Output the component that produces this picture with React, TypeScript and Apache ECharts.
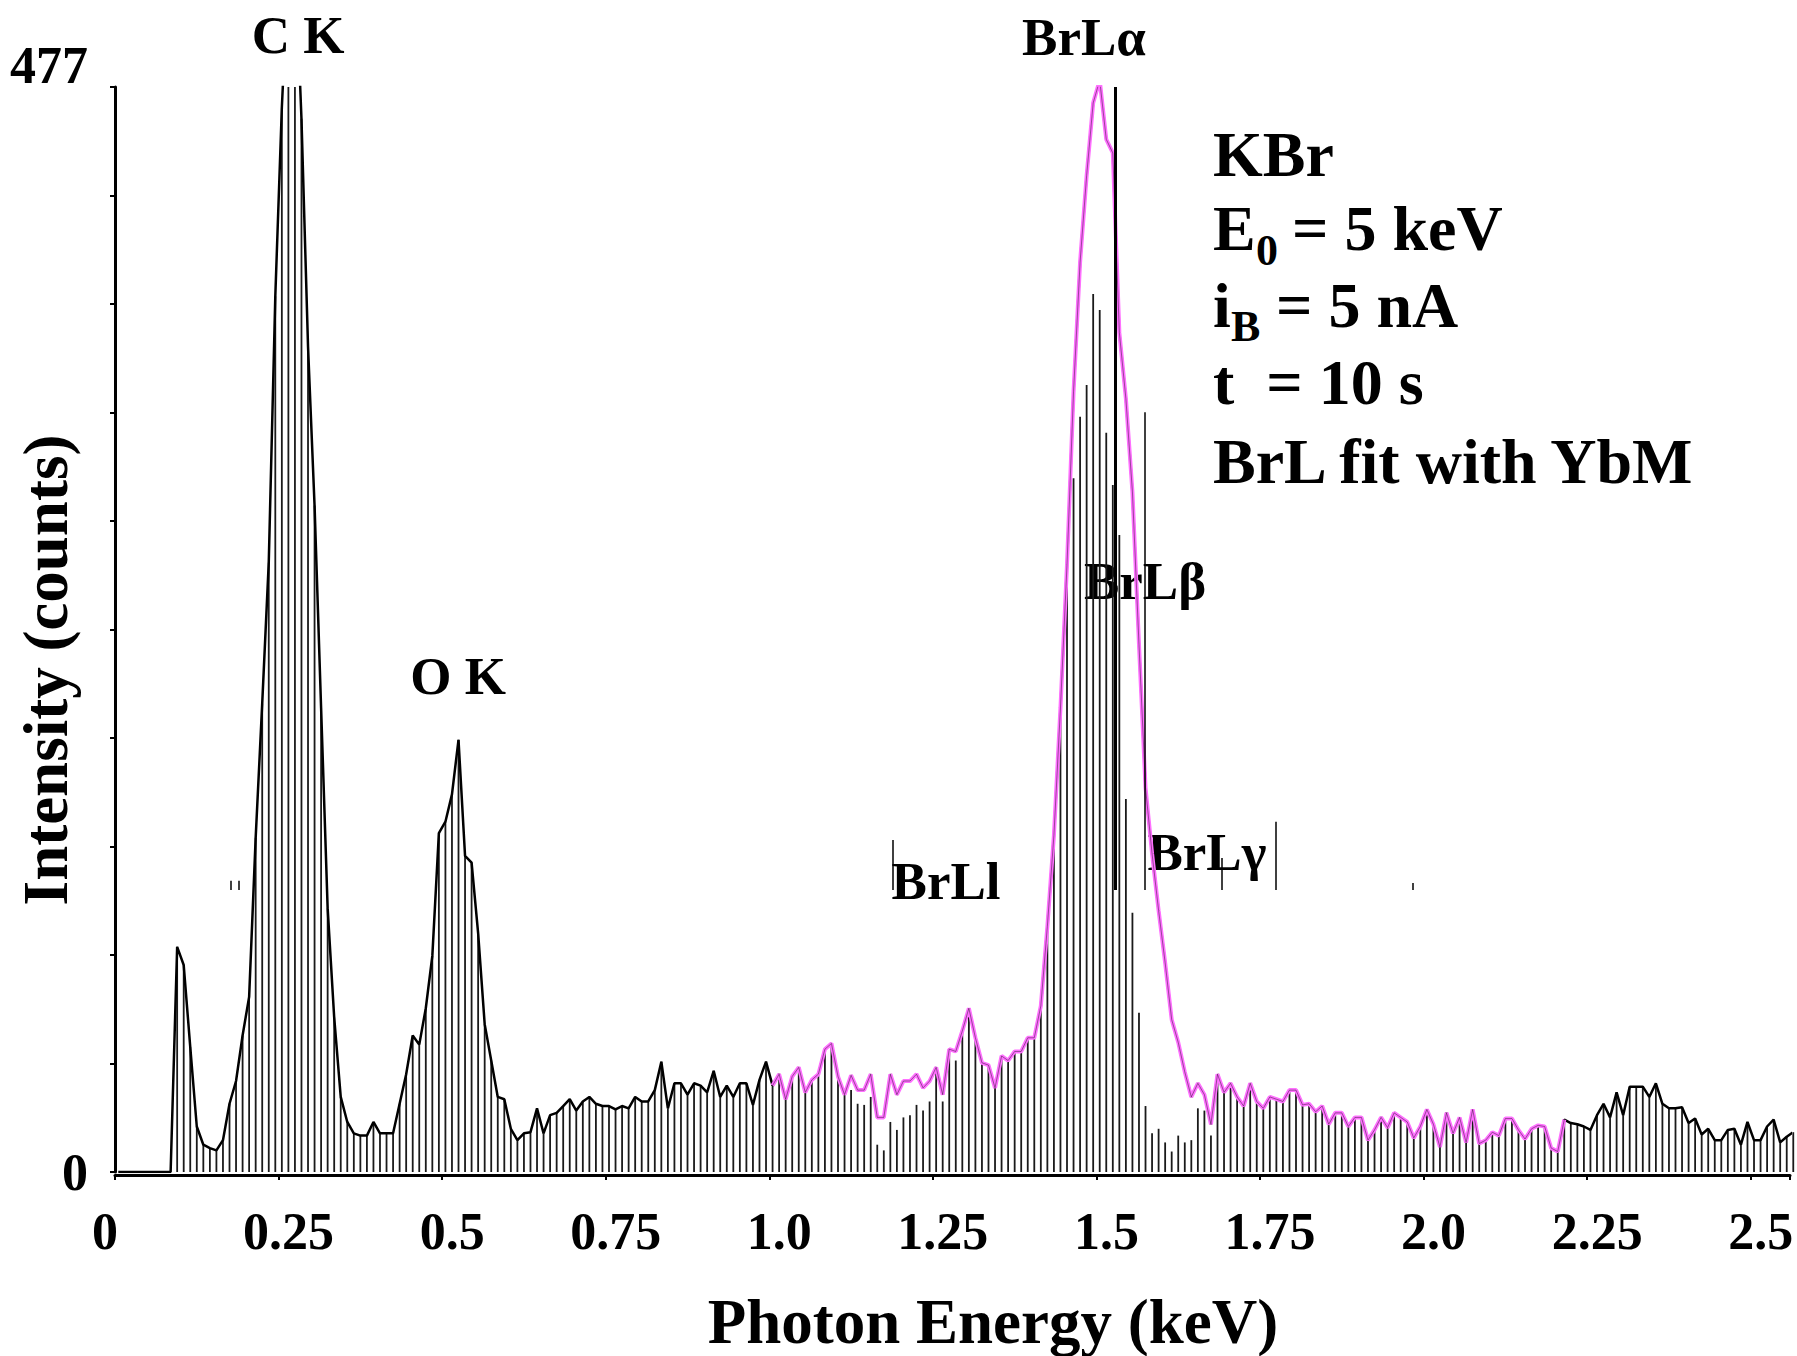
import React, { useEffect, useRef } from 'react';
import * as echarts from 'echarts';

// ---------- data ----------
// EDS spectrum, 10 eV channels (channel i centred at (i + 0.5) * 0.01 keV)
const channelWidthKeV = 0.01;

const spectrumCounts: number[] = [
  0, 0, 0, 0, 0, 0, 0, 0, 0, 99,
  91, 55, 20, 12, 10.5, 9.5, 14, 30, 40, 60,
  77, 147, 206, 268, 385, 468, 530, 535, 463, 363,
  293, 204, 116, 68, 33, 22, 17, 16, 16, 22,
  17, 17, 17, 30, 43, 60, 56, 72, 95, 149,
  154, 166, 190, 139, 136, 105, 65, 49, 33, 32,
  19, 14, 17, 17.5, 28, 17, 25, 26, 29, 32,
  27, 31, 33, 30, 29, 29, 27.5, 29, 28, 33,
  31, 31, 36, 48.5, 28, 39, 39, 34, 39, 38,
  35, 44.5, 33, 38, 33, 39, 39, 29.5, 40.5, 48.5,
  38, 43, 32, 42, 46, 35, 40.5, 43, 54, 56.5,
  42, 34, 42.5, 36, 36, 43, 24, 24, 43, 34,
  40, 40, 43, 37, 40, 46, 34, 54, 53, 62,
  72, 59, 48, 47, 37, 51, 49, 53, 53, 59,
  59, 73, 108, 148, 204, 267, 343, 400, 438, 470,
  480, 454, 448, 369, 340, 299, 232, 169, 140, 115,
  92, 67, 57, 44, 33, 39, 34, 21, 43, 35,
  39, 33, 29, 39, 31, 28, 33, 32, 31, 36,
  36, 29.5, 30, 26.5, 29, 21, 26, 26, 20, 24,
  24, 14, 18.5, 24, 19.5, 26, 24, 22, 15, 20,
  27.5, 21, 11, 26, 17, 24, 13, 27.5, 12.5, 14,
  17.5, 16, 23.5, 23.5, 18.5, 14.5, 19, 20.5, 20, 10.5,
  9, 23, 21.5, 21, 20, 18.5, 25, 30, 24, 35,
  25, 37.5, 37.5, 37.5, 33, 39, 30, 28, 28, 28.5,
  21.5, 23.5, 16.5, 19, 14, 14, 18.5, 19, 12, 22,
  14, 14, 20, 23, 13, 15.5, 17.5,
];

// channels where the drawn bar (residual after the BrL / YbM fit) differs from the spectrum
const residualBars: [number, number][] = [
  [112, 36], [113, 30], [114, 29.5], [115, 33], [116, 12], [117, 9.5], [118, 22],
  [119, 18.5], [120, 24], [121, 25], [122, 29.5], [123, 27], [124, 31], [126, 31], [128, 49],
  [145, 262], [146, 305], [147, 332], [148, 346], [149, 386], [150, 379], [151, 325],
  [152, 302], [153, 280], [154, 164], [155, 114], [156, 70], [157, 29], [158, 17],
  [159, 19], [160, 13], [161, 9], [162, 16], [163, 13], [164, 14], [165, 28], [166, 27], [167, 16],
];

// fitted range (channels)
const fitStartChannel = 100;
const fitEndChannel = 221;

// KLM marker lines: [energy keV, top count]; all start from a common base count
const markerBase = 124;
const markerLines: [number, number][] = [
  [0.177, 128], [0.189, 128], [1.189, 146], [1.528, 477], [1.574, 334],
  [1.691, 138], [1.774, 154], [1.984, 127],
];

const yMax = 477;
const xMax = 2.56;
const xTickLabels = ['0', '0.25', '0.5', '0.75', '1.0', '1.25', '1.5', '1.75', '2.0', '2.25', '2.5'];

// ---------- chart ----------
const FONT = '"Liberation Serif", "Times New Roman", Times, serif';

function textEl(text: string, x: number, y: number, size: number, extra: any = {}) {
  const { style: extraStyle, ...rest } = extra;
  return {
    type: 'text',
    x,
    y,
    silent: true,
    ...rest,
    style: {
      text,
      fontFamily: FONT,
      fontSize: size,
      fontWeight: 'bold',
      fill: '#000',
      align: 'center',
      verticalAlign: 'middle',
      textAlign: 'center',
      textVerticalAlign: 'middle',
      ...(extraStyle || {}),
    },
  };
}

function leftText(text: string, x: number, y: number, size: number) {
  return textEl(text, x, y, size, {
    style: { align: 'left', textAlign: 'left' },
  });
}

export default function App() {
  const ref = useRef<HTMLDivElement>(null);

  useEffect(() => {
    document.body.style.margin = '0';
    const chart = echarts.init(ref.current!, null, { renderer: 'svg' });

    const keVOf = (i: number) => (i + 0.5) * channelWidthKeV;
    const spectrumPoints = spectrumCounts.map((c, i) => [keVOf(i), c]);
    const residualMap = new Map<number, number>(residualBars);
    const barPoints = spectrumCounts.map((c, i) => [
      keVOf(i),
      residualMap.has(i) ? (residualMap.get(i) as number) : c,
    ]);
    const fitPoints = spectrumPoints.slice(fitStartChannel, fitEndChannel + 1);

    const markData = markerLines.map(([keV, top]) => [
      {
        coord: [keV, markerBase],
        lineStyle: { color: '#000', width: top >= yMax ? 3 : 1.5, type: 'solid' },
      },
      { coord: [keV, Math.min(top, yMax)] },
    ]);

    const labelRich = {
      z: { fontFamily: FONT, fontWeight: 'bold', fontSize: 52, color: '#000', padding: [0, 20, 0, 0] },
      r: { fontFamily: FONT, fontWeight: 'bold', fontSize: 52, color: '#000', padding: [0, 0, 0, 20] },
      top: { fontFamily: FONT, fontWeight: 'bold', fontSize: 52, color: '#000', padding: [0, 0, 44, 0] },
    };

    chart.setOption({
      animation: false,
      backgroundColor: '#ffffff',
      grid: { left: 115, right: 7, top: 87, bottom: 184, containLabel: false },
      xAxis: {
        type: 'value',
        min: 0,
        max: xMax,
        interval: 0.25,
        offset: 3,
        axisLine: { show: true, onZero: false, lineStyle: { color: '#000', width: 3 } },
        axisTick: { show: true, length: 5, lineStyle: { color: '#000', width: 2 } },
        splitLine: { show: false },
        axisLabel: {
          margin: 30,
          color: '#000',
          fontFamily: FONT,
          fontSize: 52,
          fontWeight: 'bold',
          rich: labelRich,
          formatter: (v: number) => {
            const idx = Math.round(v / 0.25);
            if (Math.abs(v - idx * 0.25) > 1e-6 || idx >= xTickLabels.length) return '';
            return idx === 0 ? `{z|${xTickLabels[0]}}` : `{r|${xTickLabels[idx]}}`;
          },
        },
      },
      yAxis: {
        type: 'value',
        min: 0,
        max: yMax,
        interval: yMax / 10,
        axisLine: { show: true, lineStyle: { color: '#000', width: 3 } },
        axisTick: { show: true, length: 5, lineStyle: { color: '#000', width: 2 } },
        splitLine: { show: false },
        axisLabel: {
          margin: 27,
          color: '#000',
          fontFamily: FONT,
          fontSize: 52,
          fontWeight: 'bold',
          rich: labelRich,
          formatter: (v: number) => {
            if (Math.abs(v) < 1e-6) return '0';
            if (Math.abs(v - yMax) < 0.01) return `{top|${yMax}}`;
            return '';
          },
        },
      },
      series: [
        {
          name: 'Channels',
          type: 'bar',
          data: barPoints,
          barWidth: 1.8,
          itemStyle: { color: '#1a1a1a' },
          z: 1,
          silent: true,
          markLine: {
            silent: true,
            symbol: ['none', 'none'],
            label: { show: false },
            lineStyle: { color: '#000', width: 1.5, type: 'solid' },
            data: markData,
          },
        },
        {
          name: 'Spectrum',
          type: 'line',
          data: spectrumPoints,
          symbol: 'none',
          lineStyle: { color: '#000', width: 2.5 },
          z: 3,
          silent: true,
        },
        {
          name: 'BrL fit (YbM)',
          type: 'line',
          data: fitPoints,
          symbol: 'none',
          lineStyle: { color: '#ff70ff', width: 4 },
          z: 4,
          silent: true,
        },
        {
          name: 'Spectrum (fit range)',
          type: 'line',
          data: fitPoints,
          symbol: 'none',
          lineStyle: { color: '#000', width: 0.5, opacity: 0.8 },
          z: 5,
          silent: true,
        },
      ],
      graphic: [
        textEl('Intensity (counts)', 46, 670, 63, { rotation: Math.PI / 2 }),
        textEl('Photon Energy (keV)', 993, 1322, 63),
        textEl('C K', 298, 35, 53),
        textEl('O K', 458, 676, 53),
        textEl('BrLα', 1084, 37, 53),
        textEl('BrLβ', 1145, 581, 53),
        textEl('BrLl', 946, 881, 53),
        textEl('BrLγ', 1207, 852, 53),
        // info block
        leftText('KBr', 1213, 154, 64),
        leftText('E', 1213, 228, 64),
        leftText('0', 1256, 250, 44),
        leftText('= 5 keV', 1292, 228, 64),
        leftText('i', 1213, 305, 64),
        leftText('B', 1231, 326, 44),
        leftText('= 5 nA', 1276, 305, 64),
        leftText('t\u00a0 = 10 s', 1213, 382, 64),
        leftText('BrL fit with YbM', 1213, 461, 64),
      ],
    });

    return () => chart.dispose();
  }, []);

  return (
    <div
      ref={ref}
      style={{ position: 'absolute', left: 0, top: 0, width: 1797, height: 1356, background: '#fff' }}
    />
  );
}
